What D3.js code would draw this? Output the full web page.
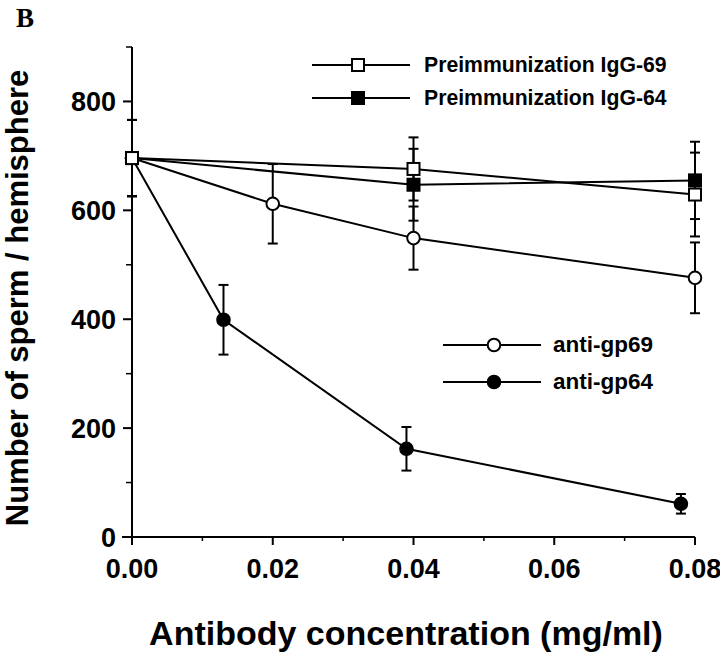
<!DOCTYPE html>
<html>
<head>
<meta charset="utf-8">
<script src="https://cdn.jsdelivr.net/npm/d3@7"></script>
<style>
  body { margin: 0; background: #fff; }
  svg { display: block; }
  text { font-family: "Liberation Sans", Arial, Helvetica, sans-serif; font-weight: bold; fill: #000; }
</style>
</head>
<body>
<script>
// values
const igg69X = [0, 0.04, 0.08]
const igg69Y = [696, 676, 629]
const igg69Err = [70, 58, 77]

const igg64X = [0, 0.04, 0.08]
const igg64Y = [696, 647, 655]
const igg64Err = [70, 66, 71]

const gp69X = [0, 0.02, 0.04, 0.08]
const gp69Y = [696, 612, 549, 476]
const gp69Err = [70, 73, 58, 65]

const gp64X = [0, 0.013, 0.039, 0.078]
const gp64Y = [696, 399, 162, 61]
const gp64Err = [70, 64, 40, 18]

const xTicks = [0, 0.02, 0.04, 0.06, 0.08]
const xMinor = [0.01, 0.03, 0.05, 0.07]
const yTicks = [0, 200, 400, 600, 800]
const yMinor = [100, 300, 500, 700, 900]

const width = 720
const height = 658
const lw = 2

const svg = d3.select("body").append("svg")
    .attr("width", width)
    .attr("height", height)

let x = d3.scaleLinear().domain([0, 0.08]).range([132, 695])
let y = d3.scaleLinear().domain([0, 900]).range([537, 47])

// series, drawn so the open square ends up on top at the shared first point
let series = [
    {name: "anti-gp64", xs: gp64X, ys: gp64Y, err: gp64Err, shape: "circle", filled: true},
    {name: "anti-gp69", xs: gp69X, ys: gp69Y, err: gp69Err, shape: "circle", filled: false},
    {name: "Preimmunization IgG-64", xs: igg64X, ys: igg64Y, err: igg64Err, shape: "square", filled: true},
    {name: "Preimmunization IgG-69", xs: igg69X, ys: igg69Y, err: igg69Err, shape: "square", filled: false}
]
series.forEach(s => {
    s.points = s.xs.map((v, i) => ({x: v, y: s.ys[i], e: s.err[i]}))
})

// axes
let xAxis = svg.append("g").attr("transform", `translate(0,${y(0)})`)
xAxis.append("line").attr("x1", x(0) - 10).attr("x2", x(0.08)).attr("stroke", "#000").attr("stroke-width", 2)
xAxis.selectAll(".maj").data(xTicks).join("line")
    .attr("x1", d => x(d)).attr("x2", d => x(d)).attr("y1", 0).attr("y2", 8)
    .attr("stroke", "#000").attr("stroke-width", 2)
xAxis.selectAll(".min").data(xMinor).join("line")
    .attr("x1", d => x(d)).attr("x2", d => x(d)).attr("y1", 0).attr("y2", 4)
    .attr("stroke", "#000").attr("stroke-width", 1.5)
xAxis.selectAll("text").data(xTicks).join("text")
    .attr("x", d => x(d)).attr("y", 41)
    .attr("text-anchor", "middle")
    .style("font-size", "27px")
    .text(d => d3.format(".2f")(d))

let yAxis = svg.append("g").attr("transform", `translate(${x(0)},0)`)
yAxis.append("line").attr("y1", y(0)).attr("y2", y(900)).attr("stroke", "#000").attr("stroke-width", 2)
yAxis.selectAll(".maj").data(yTicks).join("line")
    .attr("y1", d => y(d)).attr("y2", d => y(d)).attr("x1", -9).attr("x2", 0)
    .attr("stroke", "#000").attr("stroke-width", 2)
yAxis.selectAll(".min").data(yMinor).join("line")
    .attr("y1", d => y(d)).attr("y2", d => y(d)).attr("x1", -6).attr("x2", 0)
    .attr("stroke", "#000").attr("stroke-width", 1.5)
yAxis.selectAll("text").data(yTicks).join("text")
    .attr("x", -16).attr("y", d => y(d) + 10)
    .attr("text-anchor", "end")
    .style("font-size", "27px")
    .text(d => d)

// axis titles
svg.append("text")
    .attr("x", 406).attr("y", 645)
    .attr("text-anchor", "middle")
    .style("font-size", "34px")
    .text("Antibody concentration (mg/ml)")

svg.append("text")
    .attr("transform", "translate(28,298) rotate(-90)")
    .attr("text-anchor", "middle")
    .style("font-size", "31px")
    .text("Number of sperm / hemisphere")

svg.append("text")
    .attr("x", 16).attr("y", 27)
    .style("font-family", "'Liberation Serif', 'Times New Roman', serif")
    .style("font-size", "27px")
    .text("B")

let line = d3.line().x(d => x(d.x)).y(d => y(d.y))

function drawMarker(g, shape, filled, cx, cy) {
    if (shape === "square") {
        g.append("rect")
            .attr("x", cx - 6).attr("y", cy - 6)
            .attr("width", 12).attr("height", 12)
            .attr("fill", filled ? "#000" : "#fff")
            .attr("stroke", "#000").attr("stroke-width", lw)
    } else {
        g.append("circle")
            .attr("cx", cx).attr("cy", cy).attr("r", 6.3)
            .attr("fill", filled ? "#000" : "#fff")
            .attr("stroke", "#000").attr("stroke-width", lw)
    }
}

// error bars first, then lines, then markers
let errG = svg.append("g")
series.forEach(s => {
    s.points.forEach(p => {
        let cx = x(p.x)
        errG.append("line")
            .attr("x1", cx).attr("x2", cx)
            .attr("y1", y(p.y + p.e)).attr("y2", y(p.y - p.e))
            .attr("stroke", "#000").attr("stroke-width", lw)
        for (const v of [p.y + p.e, p.y - p.e]) {
            errG.append("line")
                .attr("x1", cx - 5).attr("x2", cx + 5)
                .attr("y1", y(v)).attr("y2", y(v))
                .attr("stroke", "#000").attr("stroke-width", lw)
        }
    })
})

series.forEach(s => {
    svg.append("path")
        .datum(s.points)
        .attr("d", line)
        .attr("fill", "none")
        .attr("stroke", "#000")
        .attr("stroke-width", lw)
})

let markG = svg.append("g")
series.forEach(s => {
    s.points.forEach(p => drawMarker(markG, s.shape, s.filled, x(p.x), y(p.y)))
})

// legends
let legendTop = [series[3], series[2]]
let legendBottom = [series[1], series[0]]

function drawLegend(items, x1, x2, mx, tx, y0, dy, fs) {
    items.forEach((s, i) => {
        let ly = y0 + i * dy
        let g = svg.append("g")
        g.append("line").attr("x1", x1).attr("x2", x2).attr("y1", ly).attr("y2", ly)
            .attr("stroke", "#000").attr("stroke-width", lw)
        drawMarker(g, s.shape, s.filled, mx, ly)
        g.append("text")
            .attr("x", tx).attr("y", ly + 7)
            .style("font-size", fs)
            .text(s.name)
    })
}

drawLegend(legendTop, 312, 410, 358, 424, 65, 33, "21.2px")
drawLegend(legendBottom, 443, 541, 494, 553, 345, 37, "22.5px")
</script>
</body>
</html>
